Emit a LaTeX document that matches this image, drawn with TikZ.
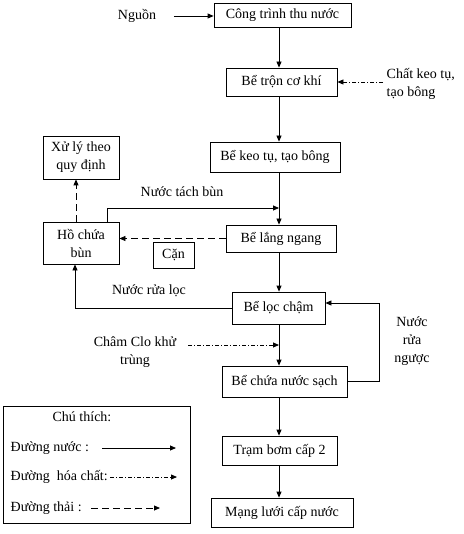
\documentclass[tikz,border=0pt]{standalone}
\usepackage{fontspec}
\setmainfont{Liberation Serif}
\usetikzlibrary{arrows.meta,positioning}

\tikzset{
  box/.style 2 args={draw, minimum width=#1, minimum height=#2, inner sep=0pt, align=center},
  water/.style={-{Triangle[length=6pt,width=5pt]}},
  chem/.style={water, dash pattern=on 4pt off 2pt on 1pt off 2pt},
  waste/.style={water, dash pattern=on 7pt off 4pt},
}

\begin{document}
\begin{tikzpicture}[x=1pt, y=-1pt, line width=0.8pt,
  font=\fontsize{14}{18}\selectfont]

  \useasboundingbox (0,0) rectangle (463,534);

  % The main line of boxes
  \node[box={137pt}{24pt}] (src)  at (282.5,15)  {Công trình thu nước};
  \node[box={111pt}{28pt}] (tron) at (281.5,82)  {Bể trộn cơ khí};
  \node[box={130pt}{30pt}] (keo)  at (275,157)   {Bể keo tụ, tạo bông};
  \node[box={110pt}{27pt}] (lang) at (281,238.5) {Bể lắng ngang};
  \node[box={93pt}{32pt}]  (loc)  at (278.5,308) {Bể lọc chậm};
  \node[box={125pt}{31pt}] (chua) at (284.5,381.5) {Bể chứa nước sạch};
  \node[box={115pt}{29pt}] (bom)  at (279.5,450.5) {Trạm bơm cấp 2};
  \node[box={142pt}{29pt}] (mang) at (282,512.5) {Mạng lưới cấp nước};

  % The sludge side
  \node[box={76pt}{43pt}] (xuly) at (81,157.5) {Xử lý theo\\quy định};
  \node[box={76pt}{42pt}] (ho)   at (81,243)   {Hồ chứa\\bùn};
  \node[box={41pt}{26pt}] (can)  at (173.5,255) {Cặn};

  % Free texts
  \node (nguon)  at (137,16)  {Nguồn};
  \node[anchor=west, align=left] (keolbl) at (383,84) {Chất keo tụ,\\tạo bông};
  \node (tachlbl) at (182,192) {Nước tách bùn};
  \node (rualbl)  at (149,291) {Nước rửa lọc};
  \node[align=center] (nguoclbl) at (412,341) {Nước\\rửa\\ngược};
  \node[align=center] (clo) at (135,352) {Châm Clo khử\\trùng};

  \coordinate (spine) at (279,0);
  \coordinate (tach) at (279,208);
  \coordinate (cloA) at (188,345);
  \coordinate (cloB) at (279,345);

  % The water line
  \draw[water] ([xshift=14pt]nguon.east) -- (src.west |- nguon.east);
  \draw[water] (src.south -| spine) -- (tron.north -| spine);
  \draw[water] (tron.south -| spine) -- (keo.north -| spine);
  \draw[water] (keo.south -| spine) -- (lang.north -| spine);
  \draw[water] (lang.south -| spine) -- (loc.north -| spine);
  \draw[water] (loc.south -| spine) -- (chua.north -| spine);
  \draw[water] (chua.south -| spine) -- (bom.north -| spine);
  \draw[water] (bom.south -| spine) -- (mang.north -| spine);

  % Chemicals
  \draw[chem] (keolbl.west |- tron.east) -- (tron.east);
  \draw[chem] (cloA) -- (cloB);

  % Returns and sludge
  \draw[water] ([xshift=-12pt]ho.north east) |- (tach);
  \draw[waste] (lang.west) -- (lang.west -| ho.east);
  \draw[waste] ([xshift=-5pt]ho.north) -- ([xshift=-5pt]xuly.south);
  \draw[water] (loc.west) -| ([xshift=-6pt]ho.south);
  \draw[water] (chua.east) -- ++(32,0) |- ([yshift=5pt]loc.east);

  % Legend
  \node[box={187pt}{117pt}] (legend) at (96.5,464.5) {};
  \node (chuthich) at (82,417) {Chú thích:};
  \node[anchor=west] (lnuoc) at (7,448) {Đường nước :};
  \node[anchor=west] (lhoa)  at (7,477) {Đường\ \ hóa chất:};
  \node[anchor=west] (lthai) at (7,508) {Đường thải :};
  \draw[water] (102,448) -- (176,448);
  \draw[chem]  (110,477) -- (177,477);
  \draw[waste] (91,508) -- (160,508);

\end{tikzpicture}
\end{document}
